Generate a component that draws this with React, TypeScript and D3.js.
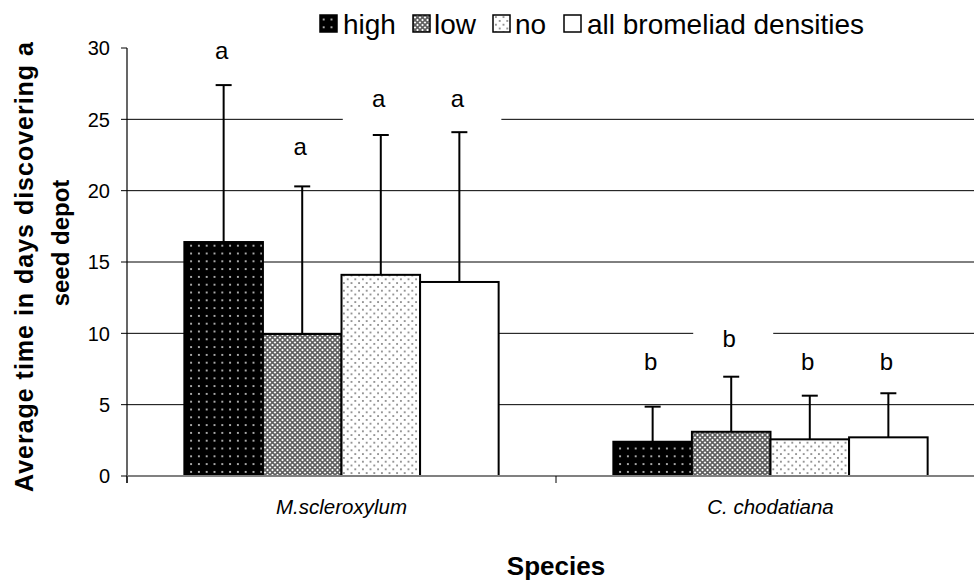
import React from "react";
import * as d3 from "d3";

const categories = ["M.scleroxylum", "C. chodatiana"];
const series = ["high", "low", "no", "all bromeliad densities"];
const highMeans = [16.4, 2.4];
const lowMeans = [9.95, 3.1];
const noMeans = [14.1, 2.57];
const allMeans = [13.6, 2.71];
const highErr = [11.0, 2.46];
const lowErr = [10.35, 3.86];
const noErr = [9.8, 3.06];
const allErr = [10.5, 3.09];
const highLetters = ["a", "b"];
const lowLetters = ["a", "b"];
const noLetters = ["a", "b"];
const allLetters = ["a", "b"];
const highLetterY = [29.2, 7.45];
const lowLetterY = [22.5, 9.05];
const noLetterY = [25.85, 7.45];
const allLetterY = [25.85, 7.45];
const yTicks = [0, 5, 10, 15, 20, 25, 30];
const gridTicks = [5, 10, 15, 20, 25];

const means = [highMeans, lowMeans, noMeans, allMeans];
const errs = [highErr, lowErr, noErr, allErr];
const letters = [highLetters, lowLetters, noLetters, allLetters];
const letterYs = [highLetterY, lowLetterY, noLetterY, allLetterY];
const fills = ["url(#pHigh)", "url(#pLow)", "url(#pNo)", "#fff"];

const FONT = "'Liberation Sans', Arial, sans-serif";

export default function App() {
  const W = 974, H = 583;
  const left = 127, right = 985, top = 48, bottom = 476;
  const y = d3.scaleLinear().domain([0, 30]).range([bottom, top]);
  const x0 = d3.scaleBand<string>().domain(categories).range([left, right]);
  const x1 = d3.scaleBand<string>().domain(series).range([0, x0.bandwidth()]).paddingOuter(0.73);
  const bw = x1.bandwidth();

  const legendItems = [
    { sx: 320, tx: 343 },
    { sx: 413, tx: 434 },
    { sx: 493, tx: 515 },
    { sx: 564, tx: 587 },
  ];

  return (
    <div>
      <style>{"body{margin:0}"}</style>
      <svg width={W} height={H} style={{ display: "block", background: "#fff" }} fontFamily={FONT}>
        <defs>
          <pattern id="pHigh" patternUnits="userSpaceOnUse" width={7.8} height={7.8}>
            <rect width={7.8} height={7.8} fill="#000" />
            <circle cx={3.9} cy={3.9} r={1} fill="#e0e0e0" />
          </pattern>
          <pattern id="pLow" patternUnits="userSpaceOnUse" width={5} height={5}>
            <rect width={5} height={5} fill="#fff" />
            <path d="M0,0L5,5M5,0L0,5" stroke="#5e5e5e" strokeWidth={1.6} />
          </pattern>
          <pattern id="pNo" patternUnits="userSpaceOnUse" width={7.6} height={7.6}>
            <rect width={7.6} height={7.6} fill="#fff" />
            <circle cx={1.9} cy={1.9} r={0.9} fill="#666" />
            <circle cx={5.7} cy={5.7} r={0.9} fill="#666" />
          </pattern>
        </defs>
        <rect width={W} height={H} fill="#fff" />

        {/* gridlines */}
        {gridTicks.map((t) => (
          <line key={t} x1={left} x2={W} y1={y(t)} y2={y(t)} stroke="#000" strokeWidth={1} />
        ))}

        {/* label backgrounds */}
        {categories.map((c, ci) =>
          series.map((s, si) => {
            const cx = (x0(c) as number) + (x1(s) as number) + bw / 2 - 2;
            const ly = y(letterYs[si][ci]);
            return <rect key={c + s} x={cx - 36} y={ly - 30} width={80} height={45} fill="#fff" />;
          })
        )}

        {/* bars */}
        {categories.map((c, ci) =>
          series.map((s, si) => {
            const bx = (x0(c) as number) + (x1(s) as number);
            return (
              <rect key={c + s} x={bx} y={y(means[si][ci])} width={bw} height={y(0) - y(means[si][ci])}
                fill={fills[si]} stroke="#000" strokeWidth={2} />
            );
          })
        )}

        {/* error bars */}
        {categories.map((c, ci) =>
          series.map((s, si) => {
            const cx = (x0(c) as number) + (x1(s) as number) + bw / 2;
            const t = y(means[si][ci] + errs[si][ci]);
            return (
              <g key={c + s} stroke="#000" strokeWidth={2}>
                <line x1={cx} x2={cx} y1={y(means[si][ci])} y2={t} />
                <line x1={cx - 8} x2={cx + 8} y1={t} y2={t} />
              </g>
            );
          })
        )}

        {/* letters */}
        {categories.map((c, ci) =>
          series.map((s, si) => {
            const cx = (x0(c) as number) + (x1(s) as number) + bw / 2 - 2;
            return (
              <text key={c + s} x={cx} y={y(letterYs[si][ci])} fontSize={24} textAnchor="middle" fill="#000">
                {letters[si][ci]}
              </text>
            );
          })
        )}

        {/* y axis */}
        <line x1={left} x2={left} y1={top} y2={bottom + 7} stroke="#000" strokeWidth={1.2} />
        {yTicks.map((t) => (
          <g key={t}>
            <line x1={left - 6} x2={left} y1={y(t)} y2={y(t)} stroke="#000" strokeWidth={1} />
            <text x={110} y={y(t)} dy="0.36em" fontSize={20} textAnchor="end" fill="#000">{t}</text>
          </g>
        ))}

        {/* x axis */}
        <line x1={left} x2={W} y1={bottom} y2={bottom} stroke="#808080" strokeWidth={1.8} />
        {[...categories.map((c) => x0(c) as number), right].map((xv, i) => (
          <line key={i} x1={xv} x2={xv} y1={bottom} y2={bottom + 7} stroke="#000" strokeWidth={1} />
        ))}
        {categories.map((c) => (
          <text key={c} x={(x0(c) as number) + x0.bandwidth() / 2} y={514} fontSize={20.5} fontStyle="italic"
            textAnchor="middle" fill="#000">{c}</text>
        ))}

        {/* axis titles */}
        <text x={(left + right) / 2} y={575} fontSize={26} fontWeight="bold" textAnchor="middle" fill="#000">Species</text>
        <text transform={`translate(33,267) rotate(-90)`} fontSize={25} fontWeight="bold" textAnchor="middle"
          textLength={450} lengthAdjust="spacing" fill="#000">
          Average time in days discovering a
        </text>
        <text transform={`translate(69,243) rotate(-90)`} fontSize={24} fontWeight="bold" textAnchor="middle" fill="#000">
          seed depot
        </text>

        {/* legend */}
        {series.map((s, i) => (
          <g key={s}>
            <rect x={legendItems[i].sx} y={15} width={17} height={17} fill={fills[i]} stroke="#000" strokeWidth={1.5} />
            <text x={legendItems[i].tx} y={34} fontSize={28} fill="#000">{s}</text>
          </g>
        ))}
      </svg>
    </div>
  );
}
